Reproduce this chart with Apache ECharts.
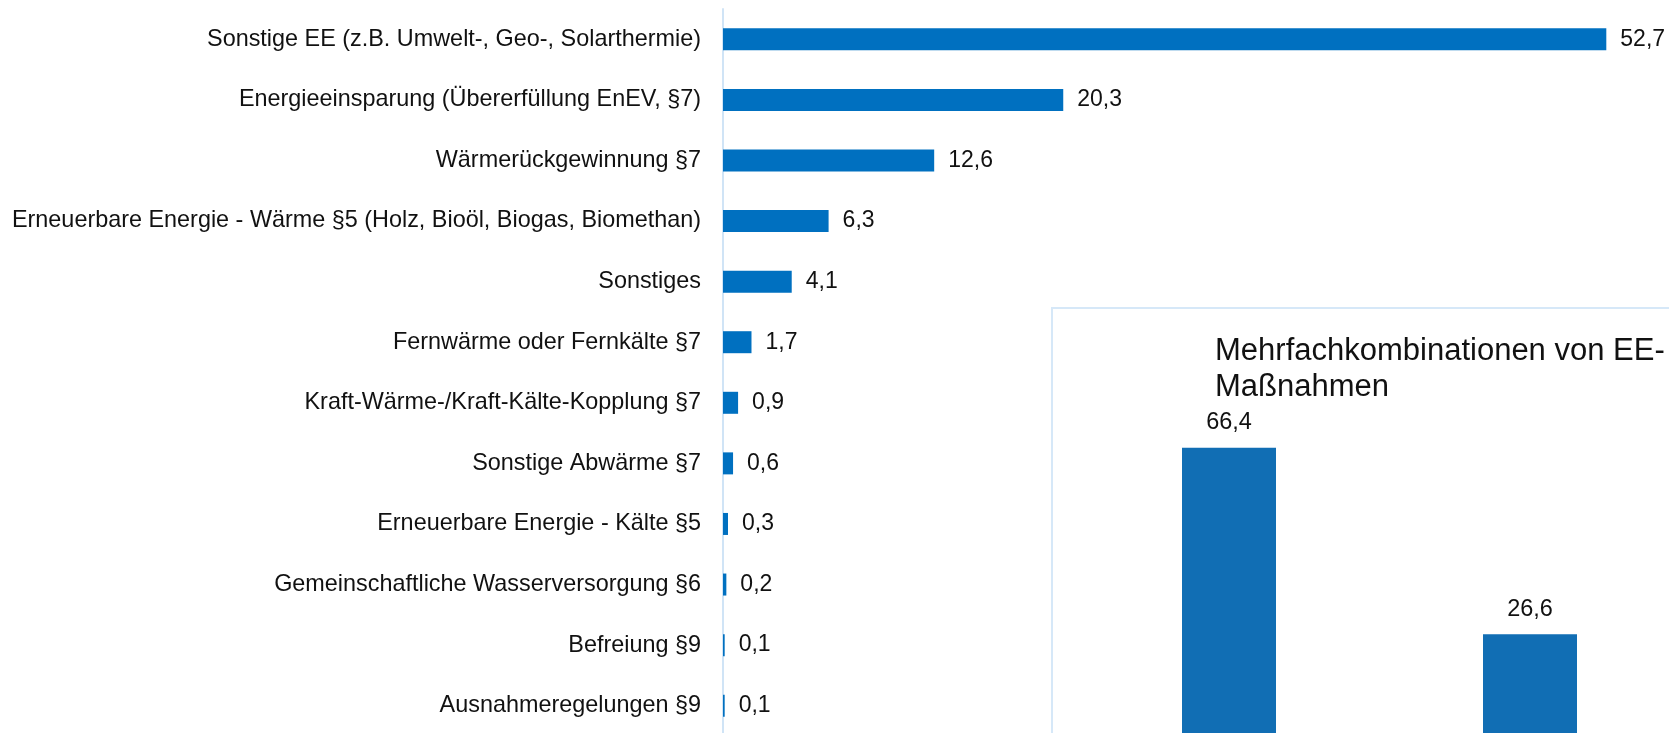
<!DOCTYPE html>
<html>
<head>
<meta charset="utf-8">
<script src="https://cdn.jsdelivr.net/npm/echarts@6/dist/echarts.min.js"></script>
<style>
  html, body { margin: 0; padding: 0; background: #fff; width: 1669px; height: 733px; overflow: hidden; }
  /* the picture is a cut-out of a larger chart, so the canvas runs past the window */
  #chart { width: 1700px; height: 770px; }
</style>
</head>
<body>
<div id="chart"></div>
<script>
var categories = [
  "Sonstige EE (z.B. Umwelt-, Geo-, Solarthermie)",
  "Energieeinsparung (Übererfüllung EnEV, §7)",
  "Wärmerückgewinnung §7",
  "Erneuerbare Energie - Wärme §5 (Holz, Bioöl, Biogas, Biomethan)",
  "Sonstiges",
  "Fernwärme oder Fernkälte §7",
  "Kraft-Wärme-/Kraft-Kälte-Kopplung §7",
  "Sonstige Abwärme §7",
  "Erneuerbare Energie - Kälte §5",
  "Gemeinschaftliche Wasserversorgung §6",
  "Befreiung §9",
  "Ausnahmeregelungen §9"
];
var values = [52.7, 20.3, 12.6, 6.3, 4.1, 1.7, 0.9, 0.6, 0.3, 0.2, 0.1, 0.1];

var insetTitle = "Mehrfachkombinationen von EE-\nMaßnahmen";
var insetCategories = ["A", "B"];
var insetValues = [66.4, 26.6];

var chartDom = document.getElementById("chart");
var myChart = echarts.init(chartDom);

function komma(p) {
  return String(p.value).replace(".", ",");
}

var font = "'Liberation Sans', Arial, sans-serif";

var option = {
  animation: false,
  textStyle: { fontFamily: font },
  title: {
    text: insetTitle,
    left: 1210,
    top: 328,
    textStyle: { fontSize: 31, lineHeight: 36, fontWeight: "normal", color: "#111", fontFamily: font }
  },
  graphic: [{
    type: "rect",
    z: 0,
    shape: { x: 1052, y: 308, width: 700, height: 500 },
    style: { fill: "#fff", stroke: "#d6e8f8", lineWidth: 2 }
  }],
  grid: [
    { left: 723, width: 947, top: 9, height: 727, containLabel: false },
    { left: 1078.5, width: 602, top: 430.8, height: 328.2, containLabel: false }
  ],
  xAxis: [
    { gridIndex: 0, type: "value", min: 0, max: 56.5, show: false },
    { gridIndex: 1, type: "category", data: insetCategories, show: false }
  ],
  yAxis: [
    {
      gridIndex: 0,
      type: "category",
      inverse: true,
      data: categories,
      axisLine: { show: true, lineStyle: { color: "#d0e4f6", width: 2 } },
      axisTick: { show: false },
      axisLabel: { fontSize: 23.4, color: "#111", margin: 22, fontFamily: font }
    },
    { gridIndex: 1, type: "value", min: 0, max: 70, show: false }
  ],
  series: [
    {
      type: "bar",
      xAxisIndex: 0,
      yAxisIndex: 0,
      data: values,
      barWidth: 22,
      itemStyle: { color: "#0070c0" },
      label: { show: true, position: "right", distance: 14, fontSize: 23, color: "#111", formatter: komma }
    },
    {
      type: "bar",
      xAxisIndex: 1,
      yAxisIndex: 1,
      data: insetValues,
      barWidth: 94,
      z: 3,
      itemStyle: { color: "#116eb4" },
      label: { show: true, position: "top", distance: 13, fontSize: 23.5, color: "#111", formatter: komma }
    }
  ]
};

myChart.setOption(option);
window.addEventListener("resize", function () {
  myChart.resize();
});
</script>
</body>
</html>
